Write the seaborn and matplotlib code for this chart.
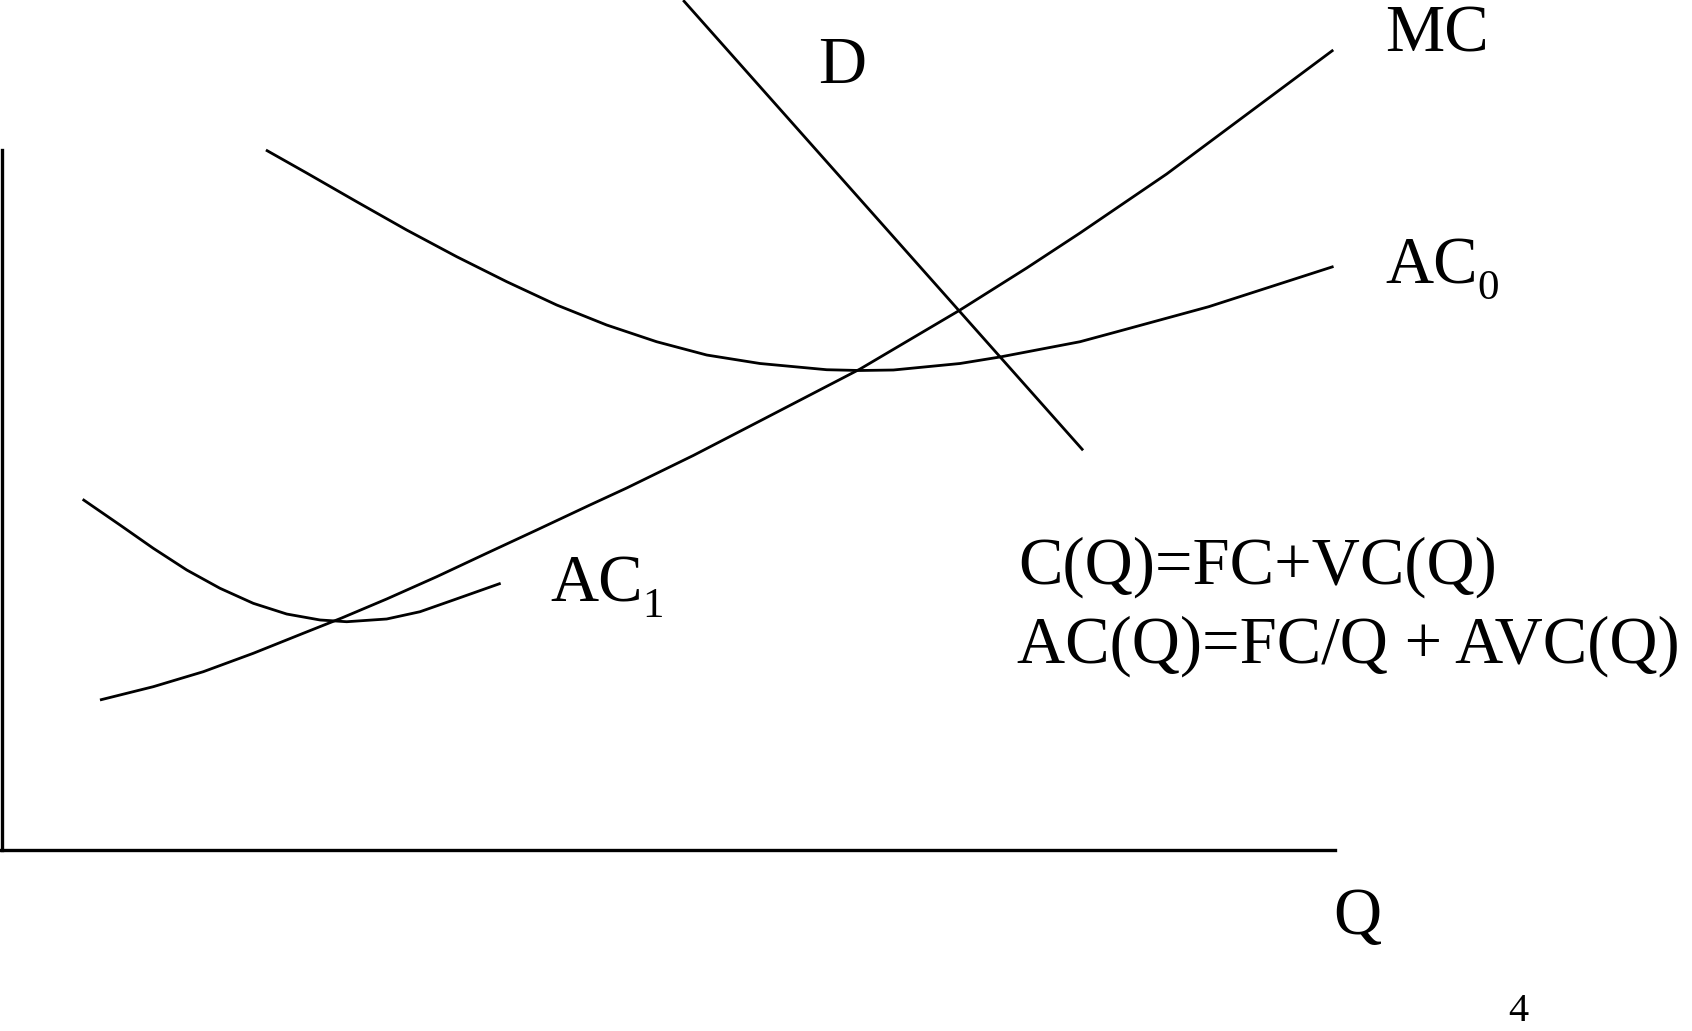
import matplotlib
matplotlib.use("Agg")
import matplotlib.pyplot as plt
import seaborn as sns
import pandas as pd

# ---- data (Q on horizontal axis 0..100, cost/price on vertical axis 0..100) ----
mc_q = [7.35, 11.35, 15.10, 18.85, 22.60, 25.48, 28.86, 32.61, 36.36, 40.11, 44.11,
        46.86, 51.86, 56.86, 64.37, 71.87, 76.87, 80.87, 87.37, 93.62, 99.87]
mc_p = [21.43, 23.33, 25.47, 28.10, 30.96, 33.14, 35.86, 39.04, 42.39, 45.71, 49.29,
        51.71, 56.36, 61.29, 68.71, 77.14, 83.14, 88.14, 96.57, 105.43, 114.29]

ac0_q = [19.80, 22.86, 26.61, 30.36, 34.11, 37.86, 41.61, 45.36, 49.11, 52.87, 56.86,
         61.87, 64.37, 66.87, 71.87, 74.87, 80.87, 83.57, 90.52, 99.89]
ac0_p = [100.0, 96.71, 92.61, 88.57, 84.76, 81.19, 77.86, 75.00, 72.61, 70.71, 69.50,
         68.61, 68.50, 68.57, 69.50, 70.43, 72.61, 74.00, 77.61, 83.36]

ac1_q = [6.05, 8.85, 11.35, 13.86, 16.35, 18.85, 21.36, 23.86, 25.86, 28.86, 31.36, 33.86, 37.41]
ac1_p = [50.10, 46.43, 43.10, 40.00, 37.39, 35.24, 33.71, 32.86, 32.61, 33.00, 34.04, 35.71, 38.10]

d_q = [51.1, 81.1]
d_p = [121.4, 57.1]

eq_lines = ["C(Q)=FC+VC(Q)", "AC(Q)=FC/Q + AVC(Q)"]
page_number = "4"

# ---- figure ----
W, H, DPI = 1692, 1031, 100
sns.set_theme(style="white")
plt.rcParams["font.family"] = ["Liberation Serif", "DejaVu Serif"]

fig = plt.figure(figsize=(W / DPI, H / DPI), dpi=DPI)
ax = fig.add_axes([0, 0, 1, 1])
ax.set_facecolor("white")

# axis geometry: Q=0 at px 2, Q=100 at px 1335 ; P=0 at px 850, P=100 at px 150
sx = (1335 - 2) / 100.0
sy = (850 - 150) / 100.0
ax.set_xlim(-2 / sx, (W - 2) / sx)
ax.set_ylim((850 - H) / sy, 850 / sy)

curve_lw = 2.0
for q, p in [(mc_q, mc_p), (ac0_q, ac0_p), (ac1_q, ac1_p), (d_q, d_p)]:
    df = pd.DataFrame({"Q": q, "P": p})
    sns.lineplot(data=df, x="Q", y="P", ax=ax, color="black", lw=curve_lw,
                 sort=False, estimator=None, solid_capstyle="butt",
                 solid_joinstyle="round")

# axes as spines
for s in ["top", "right"]:
    ax.spines[s].set_visible(False)
ax.spines["left"].set_position(("data", 0))
ax.spines["left"].set_bounds(0, 100)
ax.spines["bottom"].set_position(("data", 0))
ax.spines["bottom"].set_bounds(ax.get_xlim()[0], 100)
for s in ["left", "bottom"]:
    ax.spines[s].set_linewidth(2.4)
    ax.spines[s].set_color("black")
ax.set_xticks([])
ax.set_yticks([])
ax.set_xlabel("")
ax.set_ylabel("")

FS = 48
SUB = 31


def ftext(px, py, s, size=FS, **kw):
    return fig.text(px / W, 1 - py / H, s, fontsize=size, color="black",
                    ha="left", va="baseline", **kw)


ftext(818, 83, "D")
ftext(1385, 51, "MC")

renderer = fig.canvas.get_renderer()
for px, py, sub in [(1385, 283, "0"), (550, 601, "1")]:
    t = ftext(px, py, "AC")
    bb = t.get_window_extent(renderer=renderer)
    fig.text(bb.x1 / W, 1 - (py + 16) / H, sub, fontsize=SUB, color="black",
             ha="left", va="baseline")

ftext(1018, 584, eq_lines[0])
ftext(1017, 663, eq_lines[1])
ftext(1333, 934, "Q")
ftext(1508, 1021, page_number, size=29)

fig.savefig("out.png", dpi=DPI, facecolor="white")
